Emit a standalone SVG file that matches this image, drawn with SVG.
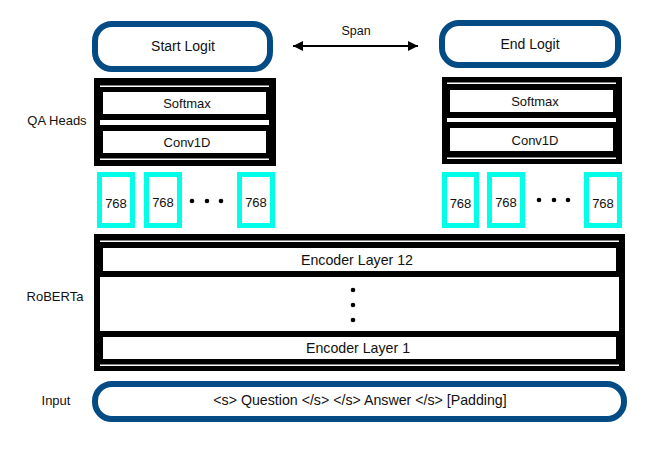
<svg xmlns="http://www.w3.org/2000/svg" width="652" height="453" viewBox="0 0 652 453">
<style>
text{font-family:"Liberation Sans",Arial,sans-serif;fill:#111;text-anchor:middle;dominant-baseline:central}
.lg{font-size:14px}
.md{font-size:13px}
.sm{font-size:13px}
.en{font-size:14.2px}
.sp{font-size:12.5px}
.pill{fill:#fff;stroke:#034b85;stroke-width:6}
.blk{fill:#000}
.wh{fill:#fff}
.cy{fill:#fff;stroke:#00ffe6;stroke-width:5}
.dot{fill:#000}
</style>
<defs>
<marker id="ah" viewBox="0 0 10 10" refX="10" refY="5" markerWidth="10" markerHeight="10" markerUnits="userSpaceOnUse" orient="auto-start-reverse">
<path d="M0,0 L10,5 L0,10 Z" fill="#000"/>
</marker>
</defs>
<rect width="652" height="453" fill="#fff"/>
<g id="labels">
<text class="md" x="57" y="120">QA Heads</text>
<text class="md" x="55" y="296">RoBERTa</text>
<text class="md" x="56" y="400">Input</text>
</g>
<g id="start-logit">
<rect class="pill" x="95" y="24" width="175" height="45" rx="17"/>
<text class="lg" x="183" y="46">Start Logit</text>
</g>
<g id="end-logit">
<rect class="pill" x="442" y="23" width="176" height="42" rx="17"/>
<text class="lg" x="530" y="44">End Logit</text>
</g>
<g id="connectors">
<line x1="293" y1="46" x2="418" y2="46" stroke="#000" stroke-width="2" marker-start="url(#ah)" marker-end="url(#ah)"/>
<text class="sp" x="356" y="31">Span</text>
</g>
<g id="qa-head-left">
<rect class="blk" x="94" y="78" width="182" height="88"/>
<rect class="wh" x="100" y="85.5" width="169" height="1.5"/>
<rect class="wh" x="103" y="92" width="163" height="22"/>
<rect class="wh" x="100" y="120" width="169" height="5"/>
<rect class="wh" x="103" y="131" width="163" height="22"/>
<rect class="wh" x="100" y="158.5" width="169" height="1.5"/>
<text class="sm" x="187" y="103">Softmax</text>
<text class="sm" x="187" y="142">Conv1D</text>
</g>
<g id="qa-head-right">
<rect class="blk" x="442" y="77" width="180" height="87"/>
<rect class="wh" x="447" y="82.5" width="169" height="1.5"/>
<rect class="wh" x="450" y="90" width="163" height="22"/>
<rect class="wh" x="447" y="118" width="169" height="4"/>
<rect class="wh" x="450" y="128" width="163" height="23"/>
<rect class="wh" x="447" y="157.5" width="169" height="1.5"/>
<text class="sm" x="535" y="101">Softmax</text>
<text class="sm" x="535" y="140">Conv1D</text>
</g>
<g id="vectors-left">
<rect class="cy" x="99.5" y="174.5" width="33" height="51"/>
<text class="md" x="116" y="203">768</text>
<rect class="cy" x="146.5" y="174.5" width="33" height="51"/>
<text class="md" x="163" y="202">768</text>
<circle class="dot" cx="192" cy="201" r="2.3"/>
<circle class="dot" cx="207" cy="201" r="2.3"/>
<circle class="dot" cx="221" cy="201" r="2.3"/>
<rect class="cy" x="239.5" y="174.5" width="33" height="51"/>
<text class="md" x="256" y="202">768</text>
</g>
<g id="vectors-right">
<rect class="cy" x="444.5" y="174.5" width="32" height="51"/>
<text class="md" x="460.5" y="203">768</text>
<rect class="cy" x="489.5" y="174.5" width="33" height="51"/>
<text class="md" x="506" y="202">768</text>
<circle class="dot" cx="539" cy="200" r="2.3"/>
<circle class="dot" cx="554" cy="200" r="2.3"/>
<circle class="dot" cx="568" cy="200" r="2.3"/>
<rect class="cy" x="586.5" y="174.5" width="33" height="51"/>
<text class="md" x="603" y="203">768</text>
</g>
<g id="roberta">
<rect class="blk" x="94" y="234" width="531" height="137"/>
<rect class="wh" x="100" y="240.5" width="519" height="1.5"/>
<rect class="wh" x="103" y="248" width="513" height="23"/>
<rect class="wh" x="100" y="277" width="519" height="54"/>
<rect class="wh" x="103" y="337" width="513" height="22"/>
<rect class="wh" x="100" y="364.5" width="519" height="1.5"/>
<text class="en" x="357" y="259.5">Encoder Layer 12</text>
<circle class="dot" cx="353" cy="290" r="2.3"/>
<circle class="dot" cx="353" cy="305" r="2.3"/>
<circle class="dot" cx="353" cy="320" r="2.3"/>
<text class="en" x="358" y="348">Encoder Layer 1</text>
</g>
<g id="input">
<rect class="pill" x="95" y="384" width="529" height="35" rx="17"/>
<text class="en" x="360" y="400">&lt;s&gt; Question &lt;/s&gt; &lt;/s&gt; Answer &lt;/s&gt; [Padding]</text>
</g>
</svg>
